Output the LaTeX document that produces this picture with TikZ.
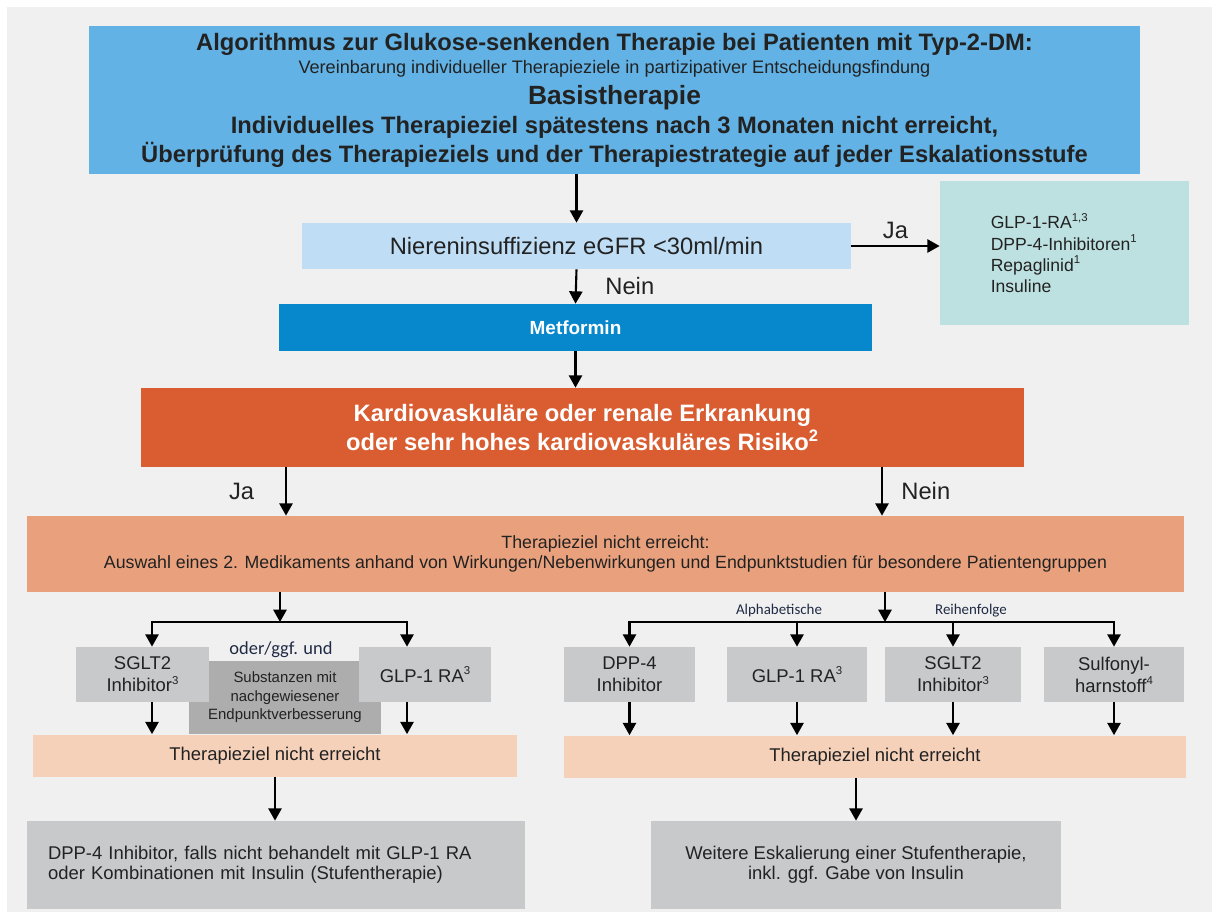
\documentclass[tikz,border=0pt]{standalone}
\usepackage{fontspec}
\setmainfont{Liberation Sans}
\newfontfamily\calibri{Carlito}
\usepackage{xcolor}
\usetikzlibrary{arrows.meta, positioning}

\definecolor{bgGray}{HTML}{F0F0F0}
\definecolor{topBlue}{HTML}{62B2E5}
\definecolor{kidneyBlue}{HTML}{BFDDF4}
\definecolor{tealBox}{HTML}{BDE1E0}
\definecolor{metBlue}{HTML}{0787CC}
\definecolor{riskRed}{HTML}{D95D31}
\definecolor{salmon}{HTML}{E9A17D}
\definecolor{drugGray}{HTML}{C8C9CA}
\definecolor{darkGray}{HTML}{ADADAD}
\definecolor{peach}{HTML}{F6D1BA}
\definecolor{textDark}{HTML}{222222}
\definecolor{navyText}{HTML}{1F2A44}

% small footnote marks
\newcommand{\hoch}[1]{\raisebox{0.42em}{\fontsize{6.5}{6.5}\selectfont #1}}

\begin{document}
\begin{tikzpicture}[
    box/.style = {rectangle, inner sep=0pt, align=center, text=textDark},
    drug/.style = {box, fill=drugGray, minimum height=1.10cm,
                   font=\fontsize{10.5}{12.5}\selectfont},
    goal/.style = {box, fill=peach, minimum height=0.84cm,
                   font=\fontsize{10.5}{12.5}\selectfont},
    final/.style = {box, fill=drugGray, minimum height=1.76cm,
                    font=\fontsize{10.5}{11.5}\selectfont},
    answer/.style = {font=\fontsize{13.5}{16}\selectfont, text=textDark},
    hint/.style = {font=\calibri\fontsize{8.5}{10}\selectfont, text=navyText},
    arrow/.style = {-{Triangle[width=7.5pt,length=7pt]}, line width=1.2pt}
]

% Background
\useasboundingbox (0,0) rectangle (24.24,-18.26);
\fill[bgGray] (0.14,-0.14) rectangle (24.24,-18.24);

% Basistherapie
\node[box, fill=topBlue, minimum width=21.02cm, minimum height=2.96cm,
      font=\fontsize{13.5}{16.5}\selectfont\bfseries] (basis) at (12.29,-2.00)
    {Algorithmus zur Glukose-senkenden Therapie bei Patienten mit Typ-2-DM:\\[-3.4pt]
     {\mdseries\fontsize{10.3}{12}\selectfont Vereinbarung individueller Therapieziele in partizipativer Entscheidungsfindung}\\[1.1pt]
     {\fontsize{15}{17}\selectfont Basistherapie}\\
     Individuelles Therapieziel spätestens nach 3 Monaten nicht erreicht,\\
     Überprüfung des Therapieziels und der Therapiestrategie auf jeder Eskalationsstufe};

% Niereninsuffizienz
\node[box, fill=kidneyBlue, minimum width=10.98cm, minimum height=0.92cm,
      font=\fontsize{13.5}{16}\selectfont] (kidney) at (11.53,-4.92)
    {Niereninsuffizienz eGFR <30ml/min};

% Alternativen
\node[box, fill=tealBox, minimum height=2.88cm, text width=2.95cm, inner xsep=1.015cm,
      align=left, font=\fontsize{10}{12}\selectfont] (alt) at (21.29,-5.06)
    {GLP-1-RA\hoch{1,3}\\DPP-4-Inhibitoren\hoch{1}\\Repaglinid\hoch{1}\\Insuline};

% Metformin
\node[box, fill=metBlue, minimum width=11.86cm, minimum height=0.94cm, text=white,
      font=\fontsize{10.8}{13}\selectfont\bfseries] (metformin) at (11.51,-6.55) {Metformin};

% Risiko
\node[box, fill=riskRed, minimum width=17.66cm, minimum height=1.58cm, text=white,
      font=\fontsize{13.5}{17}\selectfont\bfseries] (risk) at (11.65,-8.55)
    {Kardiovaskuläre oder renale Erkrankung\\oder sehr hohes kardiovaskuläres Risiko\textsuperscript{2}};

% Auswahl
\node[box, fill=salmon, minimum width=23.14cm, minimum height=1.52cm,
      font=\fontsize{10.1}{11.4}\selectfont] (choice) at (12.11,-11.08)
    {Therapieziel nicht erreicht:\\Auswahl eines 2. Medikaments anhand von Wirkungen/Nebenwirkungen und Endpunktstudien für besondere Patientengruppen};

% Linker Zweig
\node[box, fill=darkGray, minimum width=3.84cm, minimum height=1.46cm,
      font=\fontsize{8.5}{10.5}\selectfont] (subst) at (5.70,-13.95)
    {Substanzen mit\\nachgewiesener\\Endpunktverbesserung};
\node[drug, minimum width=2.66cm] (sgltL) at (2.85,-13.49) {SGLT2\\Inhibitor\hoch{3}};
\node[drug, minimum width=2.64cm] (glpL) at (8.50,-13.49) {GLP-1 RA\hoch{3}};
\node[font=\calibri\fontsize{10.5}{12}\selectfont, text=navyText] (orL) at (5.62,-12.99) {oder/ggf. und};
\node[goal, minimum width=9.68cm] (goalL) at (5.50,-15.11) {Therapieziel nicht erreicht};

% Rechter Zweig
\node[drug, minimum width=2.62cm] (dpp) at (12.59,-13.49) {DPP-4\\Inhibitor};
\node[drug, minimum width=2.80cm] (glpR) at (15.94,-13.49) {GLP-1 RA\hoch{3}};
\node[drug, minimum width=2.72cm] (sgltR) at (19.06,-13.49) {SGLT2\\Inhibitor\hoch{3}};
\node[drug, minimum width=2.80cm] (sulfo) at (22.28,-13.49) {Sulfonyl-\\harnstoff\hoch{4}};
\node[hint] (alpha) at (15.58,-12.22) {Alphabetische};
\node[hint] (order) at (19.42,-12.22) {Reihenfolge};
\node[goal, minimum width=12.44cm] (goalR) at (17.50,-15.13) {Therapieziel nicht erreicht};

% Eskalation
\node[final, minimum width=9.96cm, text width=9.12cm, inner xsep=0.42cm, align=left] (endL) at (5.52,-17.30)
    {DPP-4 Inhibitor, falls nicht behandelt mit GLP-1 RA\\oder Kombinationen mit Insulin (Stufentherapie)};
\node[final, minimum width=8.20cm] (endR) at (17.12,-17.30)
    {Weitere Eskalierung einer Stufentherapie,\\inkl. ggf. Gabe von Insulin};

% Arrows
\draw[arrow] (kidney.north |- basis.south) -- (kidney.north);
\draw[arrow] (kidney.east) -- node[answer, above] {Ja} (alt.west |- kidney.east);
\draw[arrow] (kidney.south) -- node[answer, right=0.45cm] {Nein} (metformin.north);
\draw[arrow] (metformin.south) -- (metformin.south |- risk.north);

\coordinate (colJa) at (5.72,-8.55);
\coordinate (colNein) at (17.64,-8.55);
\draw[arrow] (risk.south -| colJa) -- node[answer, left=0.5cm] {Ja} (choice.north -| colJa);
\draw[arrow] (risk.south -| colNein) -- node[answer, right=0.25cm] {Nein} (choice.north -| colNein);

% left fork
\coordinate (forkL) at (5.60,-12.44);
\coordinate (forkLa) at (3.04,-12.44);
\coordinate (forkLb) at (8.14,-12.44);
\draw[arrow] (choice.south -| forkL) -- (forkL);
\draw[arrow] (forkL) -| (forkLa |- sgltL.north);
\draw[arrow] (forkL) -| (forkLb |- glpL.north);
\draw[arrow] (sgltL.south -| forkLa) -- (goalL.north -| forkLa);
\draw[arrow] (glpL.south -| forkLb) -- (goalL.north -| forkLb);
\draw[arrow] (goalL.south) -- (goalL.south |- endL.north);

% right fork
\coordinate (forkR) at (17.70,-12.44);
\draw[arrow] (choice.south -| forkR) -- (forkR);
\foreach \drug in {dpp, glpR, sgltR, sulfo} {
    \draw[arrow] (forkR) -| (\drug.north);
    \draw[arrow] (\drug.south) -- (\drug.south |- goalR.north);
}
\draw[arrow] (endR.north |- goalR.south) -- (endR.north);

\end{tikzpicture}
\end{document}
